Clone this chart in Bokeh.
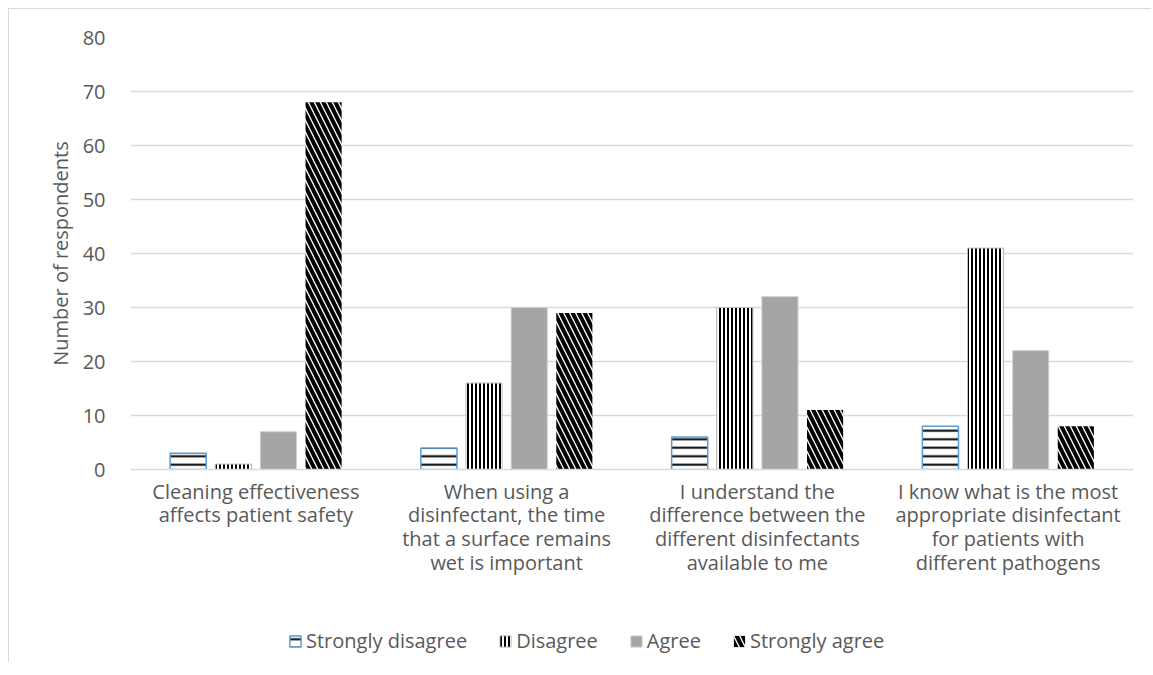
import numpy as np
from bokeh.plotting import figure
from bokeh.layouts import column
from bokeh.models import Range1d, FixedTicker, Legend, LegendItem
from bokeh.embed import file_html
from bokeh.resources import INLINE

categories = [
    "Cleaning effectiveness\naffects patient safety",
    "When using a\ndisinfectant, the time\nthat a surface remains\nwet is important",
    "I understand the\ndifference between the\ndifferent disinfectants\navailable to me",
    "I know what is the most\nappropriate disinfectant\nfor patients with\ndifferent pathogens",
]
series_names = ["Strongly disagree", "Disagree", "Agree", "Strongly agree"]
strongly_disagree = [3, 4, 6, 8]
disagree = [1, 16, 30, 41]
agree = [7, 30, 32, 22]
strongly_agree = [68, 29, 11, 8]
y_ticks = [0, 10, 20, 30, 40, 50, 60, 70, 80]

FONT = "Open Sans"
TXT = "#595959"
FS = "20px"

styles = [
    dict(fill_color="white", line_color="#5B9BD5", line_width=1.5,
         hatch_pattern="horizontal_line", hatch_color="black", hatch_scale=8.5, hatch_weight=2),
    dict(fill_color="white", line_color="#BFBFBF", line_width=1,
         hatch_pattern="vertical_line", hatch_color="black", hatch_scale=4, hatch_weight=2),
    dict(fill_color="#A5A5A5", line_color="#D0D0D0", line_width=1),
    dict(fill_color="white", line_color=None,
         hatch_pattern="left_diagonal_line", hatch_color="black", hatch_scale=12, hatch_weight=4),
]

p = figure(frame_width=1003, frame_height=432, output_backend="svg", toolbar_location=None,
           x_range=Range1d(0, 4), y_range=Range1d(0, 80),
           min_border_left=121, min_border_right=18, min_border_top=28, min_border_bottom=157)
p.outline_line_color = None
p.border_fill_color = "white"
p.background_fill_color = "white"

centers = np.arange(len(categories)) + 0.5
step = 0.18
bw = 0.144
offsets = [-1.5 * step, -0.5 * step, 0.5 * step, 1.5 * step]
series = [strongly_disagree, disagree, agree, strongly_agree]

for vals, off, st in zip(series, offsets, styles):
    p.vbar(x=centers + off, top=vals, width=bw, bottom=0, **st)

# axes
p.yaxis.ticker = FixedTicker(ticks=y_ticks)
p.yaxis.axis_line_color = None
p.yaxis.major_tick_line_color = None
p.yaxis.minor_tick_line_color = None
p.yaxis.major_label_text_font = FONT
p.yaxis.major_label_text_font_size = FS
p.yaxis.major_label_text_color = TXT
p.yaxis.major_label_standoff = 19
p.yaxis.axis_label = "Number of respondents"
p.yaxis.axis_label_text_font = FONT
p.yaxis.axis_label_text_font_size = FS
p.yaxis.axis_label_text_font_style = "normal"
p.yaxis.axis_label_text_color = TXT
p.yaxis.axis_label_standoff = 6

p.xaxis.ticker = FixedTicker(ticks=list(centers))
p.xaxis.major_label_overrides = {float(c): lab for c, lab in zip(centers, categories)}
p.xaxis.axis_line_color = "#D9D9D9"
p.xaxis.axis_line_width = 1.5
p.xaxis.major_tick_line_color = None
p.xaxis.minor_tick_line_color = None
p.xaxis.major_label_text_font = FONT
p.xaxis.major_label_text_font_size = FS
p.xaxis.major_label_text_color = TXT
p.xaxis.major_label_standoff = 2
p.xaxis.major_label_text_line_height = 0.88

p.xgrid.grid_line_color = None
p.ygrid.grid_line_color = "#D9D9D9"
p.ygrid.grid_line_width = 1.5

# legend strip (its bars sit far outside its visible ranges; only the legend shows)
lf = figure(width=121 + 1003 + 18, height=28, output_backend="svg", toolbar_location=None,
            x_range=Range1d(1000, 1004), y_range=Range1d(1000, 1001),
            x_axis_location=None, y_axis_location=None,
            min_border=0, min_border_left=0, min_border_right=0, min_border_top=0, min_border_bottom=0)
lf.outline_line_color = None
lf.xgrid.grid_line_color = None
lf.ygrid.grid_line_color = None
lf.border_fill_color = "white"
leg_renderers = [lf.vbar(x=centers + off, top=vals, width=bw, bottom=0, **st)
                 for vals, off, st in zip(series, offsets, styles)]
legend = Legend(items=[LegendItem(label=n, renderers=[r]) for n, r in zip(series_names, leg_renderers)],
                orientation="horizontal", location=(158, 0),
                label_text_font=FONT, label_text_font_size=FS, label_text_color=TXT,
                glyph_width=14, glyph_height=14, spacing=31, label_standoff=4,
                border_line_color=None, background_fill_alpha=0, margin=0, padding=0)
lf.add_layout(legend, "center")

layout = column(p, lf, spacing=0)
layout.styles = {"margin": "8px 0 0 8px", "border-left": "1px solid #D9D9D9",
                 "border-top": "1px solid #D9D9D9", "padding-bottom": "8px"}

open("out.html", "w").write(file_html(layout, INLINE))
